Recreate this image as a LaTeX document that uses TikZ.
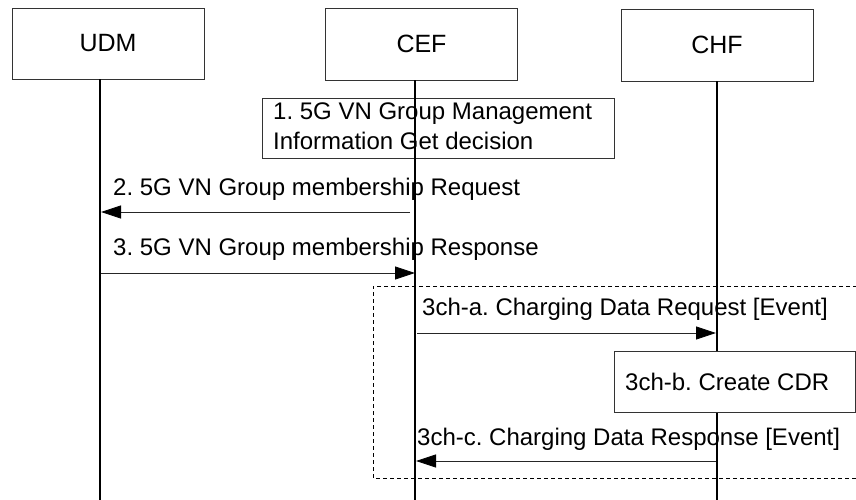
\documentclass[tikz,border=0pt]{standalone}
\usepackage{fontspec}
\setmainfont{Liberation Sans}
\usetikzlibrary{arrows.meta}
\frenchspacing
\begin{document}
\begin{tikzpicture}[x=1pt,y=-1pt,
  font=\fontsize{24}{29}\selectfont,
  ent/.style={draw=black!80, line width=0.8pt, minimum width=192pt, minimum height=71pt, inner sep=0pt, font=\fontsize{25}{30}\selectfont},
  lifeline/.style={line width=1.6pt, black},
  msg/.style={draw=black!85, line width=0.8pt, -{Triangle[length=20pt,width=13pt,fill=black,color=black]}},
  lbl/.style={anchor=base west, inner sep=0pt},
  actbox/.style={draw=black!80, line width=0.8pt, anchor=north west, inner sep=0pt},
  grp/.style={draw=black, line width=0.7pt, dash pattern=on 4pt off 3pt}
]
\path[use as bounding box] (0,0) rectangle (856,500);

% entities
\node[ent] (udm) at (108,43.5) {UDM};
\node[ent, minimum height=72pt] (cef) at (421.5,44) {CEF};
\node[ent, minimum height=72pt] (chf) at (717,45) {CHF};

% step 1 box
\node[actbox, minimum width=352pt, minimum height=60pt] (s1) at (262,98) {};
\node[lbl] (s1a) at (273,120) {1. 5G VN Group Management};
\node[lbl] (s1b) at (273,149) {Information Get decision};

% message labels
\node[lbl] (m2) at (113,195) {2. 5G VN Group membership Request};
\node[lbl] (m3) at (113,255) {3. 5G VN Group membership Response};
\node[lbl] (m4) at (422,315) {3ch-a. Charging Data Request [Event]};
\node[lbl] (m6) at (417,445) {3ch-c. Charging Data Response [Event]};

% dashed group frame
\coordinate (g1) at (857,286);
\coordinate (g2) at (373,286);
\coordinate (g3) at (373,478);
\coordinate (g4) at (857,478);
\draw[grp] (g1) -- (g2) -- (g3) -- (g4);

% lifelines
\coordinate (udmend) at (100,500);
\coordinate (cefend) at (415,500);
\coordinate (chfend) at (717,500);
\draw[lifeline] (udmend |- udm.south) -- (udmend);
\draw[lifeline] (cefend |- cef.south) -- (cefend);
\draw[lifeline] (chfend |- chf.south) -- (chfend);

% messages
\coordinate (m2s) at (410,212);
\coordinate (m2e) at (101,212);
\draw[msg] (m2s) -- (m2e);
\coordinate (m3s) at (101,273);
\coordinate (m3e) at (415,273);
\draw[msg] (m3s) -- (m3e);
\coordinate (m4s) at (417,333);
\coordinate (m4e) at (716,333);
\draw[msg] (m4s) -- (m4e);
\coordinate (m6s) at (716,461);
\coordinate (m6e) at (416,461);
\draw[msg] (m6s) -- (m6e);

% step 3ch-b box
\node[actbox, fill=white, minimum width=241pt, minimum height=61pt] (s5) at (614,351) {};
\node[lbl] (s5t) at (625,390) {3ch-b. Create CDR};
\end{tikzpicture}
\end{document}
